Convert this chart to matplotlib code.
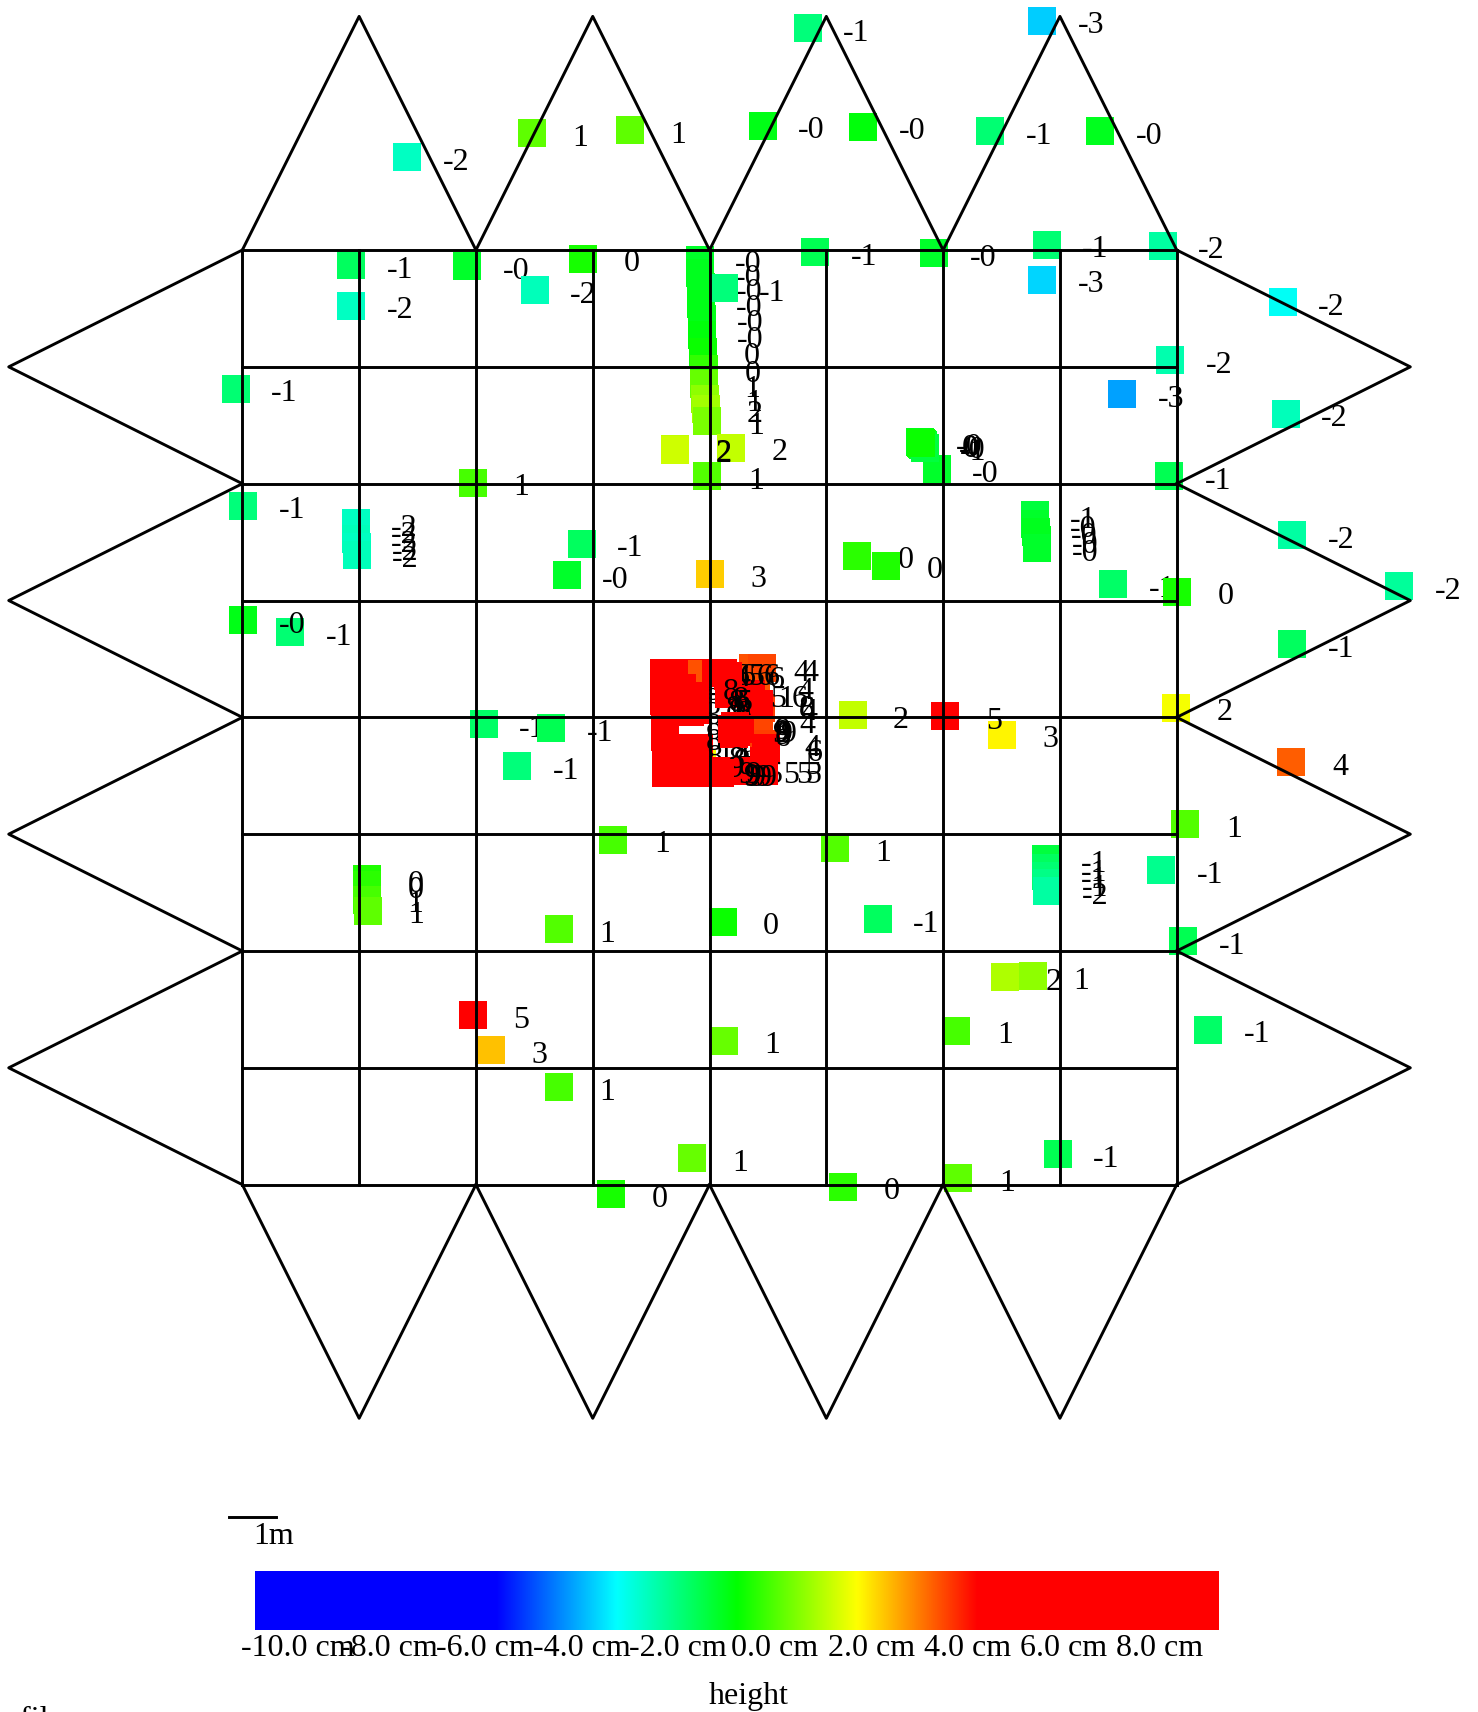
import numpy as np
import matplotlib
matplotlib.use('Agg')
import matplotlib.pyplot as plt
from matplotlib.colors import LinearSegmentedColormap, Normalize

plt.rcParams['font.family'] = ['Liberation Serif', 'DejaVu Serif']

# sensor positions (reference pixels), heights in cm
# order matters: a later square paints over earlier labels
sensor_x = [
    740, 955, 373, 487, 577, 699, 791, 907, 1008,
    322, 428, 534, 490, 322, 747, 856, 959, 1065, 955, 1175, 1072, 1028, 1178, 216, 1071, 858, 433, 648,
    223, 533, 519, 650, 785, 812, 1020, 1078, 1184, 1282, 266, 223, 1184,
    781, 918, 866, 1077, 1183, 443, 505, 474,
    562, 765, 1086, 1064, 662, 804, 512, 1084,
    921, 946, 433, 450, 663, 876, 1107, 512,
    634, 969, 878, 772, 560,
    # column near the top
    641, 641, 642, 642, 643, 643, 644, 645, 645, 646, 647, 648,
    663, 670, 618, 618,
    # small runs
    326, 326, 326, 327, 327,
    948, 948, 949, 950, 950,
    958, 958, 958, 959, 959,
    336, 336, 336, 337,
    843, 845, 846, 847, 844,
    # centre cluster: low values, then what hides them
    676, 620, 630, 643, 635,
    635, 640, 640,
    608, 608, 608, 609, 609, 610, 610, 612, 620, 615,
    # orange right side, then red on it
    690, 698, 693, 697, 695, 700, 702, 700,
    688, 694, 695, 668,
    # bottom row
    665, 680, 692, 700,
    # top row
    648, 635, 640, 636, 617, 656, 662, 667,
    625, 628, 630, 632, 634, 636, 637, 637,
    # the dense label clumps
    671, 673, 674, 672, 675, 673, 678,
    630, 630, 646, 640, 644, 645, 650, 655, 660,
]
sensor_y = [
    26, 19, 144, 122, 119, 115, 116, 120, 120,
    243, 244, 237, 266, 280, 231, 232, 224, 225, 256, 277, 330, 361, 379, 356, 436, 430, 442, 436,
    463, 498, 527, 526, 509, 518, 535, 542, 490, 537, 579, 568, 590,
    655, 673, 656, 648, 698, 663, 667, 702,
    769, 777, 755, 797, 844, 842, 851, 862,
    895, 894, 930, 962, 953, 944, 943, 996,
    1061, 1057, 1079, 1087, 1094,
    238, 250, 263, 278, 292, 307, 322, 338, 352, 365, 375, 386,
    264, 410, 411, 412,
    479, 486, 494, 501, 508,
    472, 480, 487, 495, 502,
    787, 795, 802, 809, 816,
    805, 811, 824, 834,
    405, 407, 408, 410, 406,
    636, 687, 703, 700, 687,
    685, 700, 685,
    616, 630, 642, 662, 675, 690, 708, 708, 708, 708,
    612, 612, 629, 648, 660, 681, 685, 697,
    636, 646, 645, 636,
    706, 706, 706, 706,
    616, 616, 616, 617, 616, 616, 616, 619,
    630, 645, 640, 652, 637, 645, 650, 640,
    668, 667, 670, 672, 668, 665, 668,
    700, 692, 706, 706, 707, 708, 708, 708, 708,
]
sensor_h = [
    -1.2, -3.0, -1.9, 0.9, 0.9, -0.2, -0.1, -1.1, -0.3,
    -0.9, -0.4, 0.2, -1.8, -1.9, -0.8, -0.4, -1.1, -1.6, -2.9, -2.4, -1.7, -3.4, -1.8, -1.1, -0.8, -0.4, 0.7, 0.8,
    -1.2, -0.9, -0.4, 3.0, 0.4, 0.3, -1.0, 0.2, -1.6, -1.5, -1.1, -0.2, -0.9,
    1.9, 2.6, 5.2, 2.4, 4.1, -1.0, -0.8, -1.2,
    0.7, 0.8, 0.8, -1.4, 0.1, -0.9, 0.8, -0.8,
    1.7, 1.4, 5.1, 3.1, 1.0, 0.7, -1.0, 0.7,
    1.0, -0.8, 0.9, 0.4, 0.2,
    -0.4, -0.3, -0.3, -0.2, -0.2, -0.1, 0.1, 0.5, 1.0, 1.4, 1.6, 1.2,
    -1.2, 1.9, 1.9, 2.0,
    -1.9, -1.9, -1.8, -1.9, -1.8,
    -0.6, -0.4, -0.3, -0.3, -0.4,
    -0.6, -0.9, -1.1, -1.3, -1.6,
    0.3, 0.4, 0.7, 0.9,
    -0.2, 0.2, -0.4, -0.6, 0.1,
    0.9, 0.9, 3.2, 2.4, 3.6,
    8.2, 8.1, 9.2,
    5.5, 8.2, 5.3, 8.1, 8.3, 8.5, 6.3, 6.2, 6.2, 5.7,
    4.2, 4.3, 4.2, 4.4, 4.3, 4.4, 5.5, 5.4,
    6.3, 6.1, 8.2, 5.3,
    5.3, 5.2, 5.4, 5.1,
    5.4, 5.5, 5.5, 4.2, 5.7, 5.6, 5.8, 6.0,
    8.1, 8.3, 8.2, 8.0, 8.1, 7.9, 8.2, 5.2,
    9.1, 9.3, 9.0, 5.5, 9.2, 8.8, 9.0,
    9.0, 8.3, 9.2, 9.0, 9.3, 9.1, 9.0, 9.4, 9.1,
]

bar_ticks = [-10, -8, -6, -4, -2, 0, 2, 4, 6, 8]
bar_label_x = [273, 356, 444, 533, 621, 710, 798, 886, 974, 1062]

PX_PER_M = 42.8
x_m = (np.array(sensor_x) - 650) / PX_PER_M
y_m = (657 - np.array(sensor_y)) / PX_PER_M

cmap = LinearSegmentedColormap.from_list(
    'height',
    [(0, '#0000ff'), (0.25, '#0000ff'), (0.375, '#00ffff'), (0.5, '#00ff00'),
     (0.625, '#ffff00'), (0.75, '#ff0000'), (1, '#ff0000')], N=512)
norm = Normalize(-10, 10)

fig = plt.figure(figsize=(14.78, 17.12), dpi=100)
ax = fig.add_axes([0, 0, 1, 1])
ax.set_xlim(-650 / PX_PER_M, (1354 - 650) / PX_PER_M)
ax.set_ylim((657 - 1568) / PX_PER_M, 657 / PX_PER_M)
ax.axis('off')

for i, (x, y, h) in enumerate(zip(x_m, y_m, sensor_h)):
    z = 2 + i * 0.01
    ax.scatter([x], [y], c=[h], cmap=cmap, norm=norm, marker='s', s=378, linewidths=0, zorder=z)
    ax.text(x + 1.04, y - 0.11, f'{h:.0f}', fontsize=23, ha='center', va='center', zorder=z + 0.005)

# the grid and the triangle flaps around it
cell = 2.5
edges = cell * np.arange(-4, 5)
lw = 2.1
for e in edges:
    ax.plot([e, e], [-10, 10], color='black', lw=lw, zorder=9)
    ax.plot([-10, 10], [e, e], color='black', lw=lw, zorder=9)
for left in edges[:-1:2]:
    mid = left + cell
    right = left + 2 * cell
    ax.plot([left, mid, right], [10, 15, 10], color='black', lw=lw, zorder=9)
    ax.plot([left, mid, right], [-10, -15, -10], color='black', lw=lw, zorder=9)
    ax.plot([-10, -15, -10], [left, mid, right], color='black', lw=lw, zorder=9)
    ax.plot([10, 15, 10], [left, mid, right], color='black', lw=lw, zorder=9)

# scale bar
ax.plot([(210 - 650) / PX_PER_M, (253 - 650) / PX_PER_M], [(657 - 1389) / PX_PER_M] * 2, color='black', lw=lw)
ax.text((251 - 650) / PX_PER_M, (657 - 1407) / PX_PER_M, '1m', fontsize=23, ha='center', va='center')

# colour bar
W, H = 1354, 1568
cax = fig.add_axes([234 / W, 1 - 1493 / H, (1117 - 234) / W, (1493 - 1439) / H])
cax.imshow(np.linspace(-10, 10, 512).reshape(1, -1), cmap=cmap, norm=norm, aspect='auto')
cax.axis('off')
for t, lx in zip(bar_ticks, bar_label_x):
    ax.text((lx - 650) / PX_PER_M, (657 - 1510) / PX_PER_M, f'{t:.1f} cm',
            fontsize=23, ha='center', va='center')
ax.text((686 - 650) / PX_PER_M, (657 - 1554) / PX_PER_M, 'height', fontsize=23, ha='center', va='center')

# cut off at the lower edge of the picture
fig.text(20 / 1478, 1 - 1706 / 1712, 'fil', fontsize=23, ha='left', va='top')

fig.savefig('out.png', dpi=100)
